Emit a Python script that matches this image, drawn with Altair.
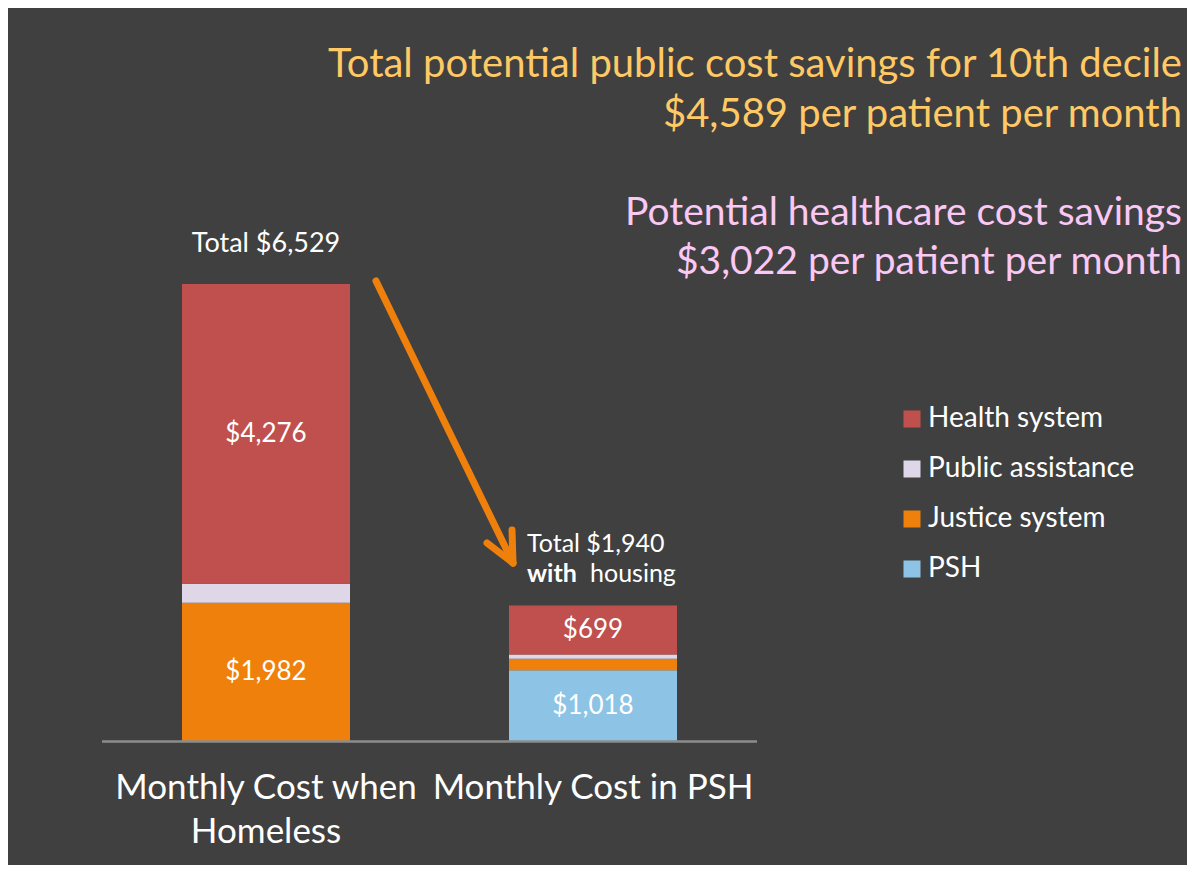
import altair as alt
import pandas as pd

# ---- data ----
categories = ["Monthly Cost when Homeless", "Monthly Cost in PSH"]
category_lines = ["Monthly Cost when\nHomeless", "Monthly Cost in PSH"]
segments = ["Health system", "Public assistance", "Justice system", "PSH"]
seg_colors = ["#C0504D", "#DFD7E8", "#EF800B", "#8DC4E6"]
stack_order = ["PSH", "Justice system", "Public assistance", "Health system"]
homeless_vals = [4276, 271, 1982, 0]
psh_vals = [699, 61, 162, 1018]
homeless_labels = ["$4,276", "", "$1,982", ""]
psh_labels = ["$699", "", "", "$1,018"]
totals = [6529, 1940]
total_texts = ["Total $6,529", "Total $1,940"]
title_gold = ["Total potential public cost savings for 10th decile", "$4,589 per patient per month"]
title_pink = ["Potential healthcare cost savings", "$3,022 per patient per month"]

FONT = "Lato"
BG = "#404040"
GOLD = "#FFC965"
PINK = "#FAC8F5"
ORANGE = "#EF800B"

rows = []
for cat, vals, labs in [(categories[0], homeless_vals, homeless_labels),
                        (categories[1], psh_vals, psh_labels)]:
    d = dict(zip(segments, vals))
    lab = dict(zip(segments, labs))
    base = 0
    for s in stack_order:
        v = d[s]
        if v > 0:
            rows.append(dict(category=cat, segment=s, value=v, y0=base, y1=base + v,
                             mid=base + v / 2, label=lab[s]))
        base += v
df = pd.DataFrame(rows)
df_lab = df[df["label"] != ""]
df_cat = pd.DataFrame({"category": categories, "text": category_lines})
df_tot = pd.DataFrame({"category": categories, "total": totals, "text": total_texts})

W, H = 1179, 857
xscale = alt.Scale(type="point", domain=categories, range=[258, 585], padding=0)
yscale = alt.Scale(domain=[-1762, 10468], nice=False, zero=False)
one = pd.DataFrame({"a": [0]})

bars = alt.Chart(df).mark_bar(size=168).encode(
    x=alt.X("category:N", scale=xscale, axis=None, sort=categories),
    y=alt.Y("y0:Q", scale=yscale, axis=None),
    y2="y1:Q",
    color=alt.Color("segment:N",
                    scale=alt.Scale(domain=segments, range=seg_colors),
                    legend=alt.Legend(title=None, orient="none", legendX=890, legendY=397,
                                      symbolType="square", symbolSize=289,
                                      symbolStrokeWidth=0, labelFontSize=28,
                                      labelFont=FONT, labelColor="white",
                                      labelOffset=2, rowPadding=22, padding=0,
                                      labelLimit=400)),
)

seg_text = alt.Chart(df_lab).mark_text(font=FONT, fontSize=26, color="white",
                                       baseline="middle", align="center").encode(
    x=alt.X("category:N", scale=xscale, sort=categories),
    y=alt.Y("mid:Q", scale=yscale),
    text="label:N",
)

baseline_rule = alt.Chart(one).mark_rule(color="#8C8C8C", strokeWidth=2.5).encode(
    x=alt.value(94), x2=alt.value(749), y=alt.datum(0, scale=yscale)
)

cat_text = alt.Chart(df_cat).mark_text(font=FONT, fontSize=35, color="white",
                                       align="center", baseline="alphabetic",
                                       lineBreak="\n", lineHeight=44).encode(
    x=alt.X("category:N", scale=xscale, sort=categories),
    y=alt.value(791),
    text="text:N",
)

tot1 = alt.Chart(df_tot[df_tot["category"] == categories[0]]).mark_text(
    font=FONT, fontSize=27, color="white", align="center", baseline="alphabetic", dy=-32
).encode(
    x=alt.X("category:N", scale=xscale, sort=categories),
    y=alt.Y("total:Q", scale=yscale),
    text="text:N",
)
tot2 = alt.Chart(df_tot[df_tot["category"] == categories[1]]).mark_text(
    font=FONT, fontSize=25, color="white", align="left", baseline="alphabetic"
).encode(x=alt.value(519), y=alt.value(544), text="text:N")
with_bold = alt.Chart(one).mark_text(font=FONT, fontSize=25, color="white", align="left",
                                     baseline="alphabetic", fontWeight="bold").encode(
    x=alt.value(519), y=alt.value(574), text=alt.value("with"))
housing = alt.Chart(one).mark_text(font=FONT, fontSize=25, color="white", align="left",
                                   baseline="alphabetic").encode(
    x=alt.value(582), y=alt.value(574), text=alt.value("housing"))

def title_line(txt, color, ypix, size):
    return alt.Chart(one).mark_text(font=FONT, fontSize=size, color=color, align="right",
                                    baseline="alphabetic").encode(
        x=alt.value(1174), y=alt.value(ypix), text=alt.value(txt))

titles = [title_line(title_gold[0], GOLD, 69, 40), title_line(title_gold[1], GOLD, 119, 40),
          title_line(title_pink[0], PINK, 217, 39), title_line(title_pink[1], PINK, 266, 39)]

def arrow_seg(x1, y1, x2, y2):
    return alt.Chart(one).mark_rule(color=ORANGE, strokeWidth=7, strokeCap="round").encode(
        x=alt.value(x1), y=alt.value(y1), x2=alt.value(x2), y2=alt.value(y2))

arrow = [arrow_seg(368, 273, 505, 555), arrow_seg(505, 555, 479, 535),
         arrow_seg(505, 555, 504, 522)]

chart = alt.layer(bars, seg_text, baseline_rule, cat_text, tot1, tot2, with_bold, housing,
                  *titles, *arrow).properties(
    width=W, height=H, background=BG, padding=0, autosize="none"
).configure_view(stroke=None)

chart.save("out.html", embed_options={"renderer": "svg", "actions": False})
